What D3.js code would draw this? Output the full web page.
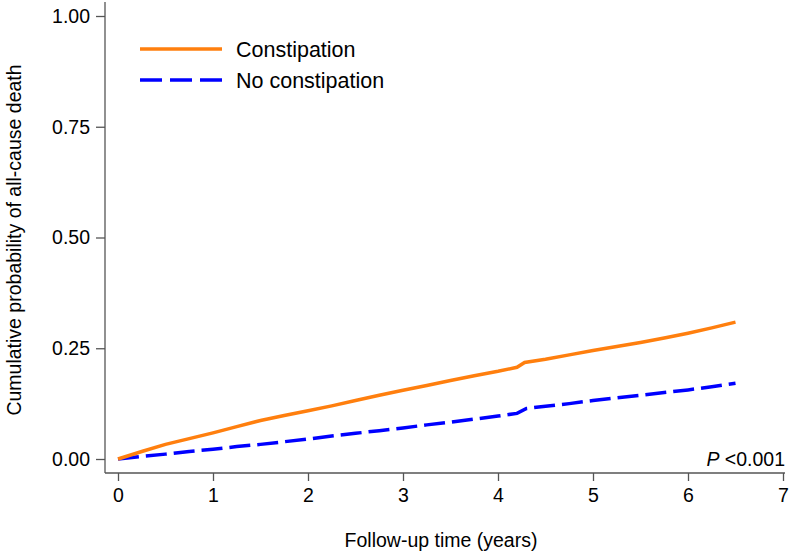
<!DOCTYPE html>
<html><head><meta charset="utf-8">
<script src="https://cdn.jsdelivr.net/npm/d3@7"></script>
<style>body{margin:0;background:#fff}svg{display:block}text{font-family:"Liberation Sans",Arial,sans-serif;fill:#000}</style>
</head><body>
<svg id="c" width="800" height="554"></svg>
<script>
const timeC = [0,0.25,0.5,0.75,1,1.25,1.5,1.75,2,2.25,2.5,2.75,3,3.25,3.5,3.75,4,4.2,4.28,4.5,4.75,5,5.25,5.5,5.75,6,6.25,6.5];
const constipation = [0,0.017,0.033,0.046,0.059,0.073,0.087,0.098,0.109,0.120,0.132,0.144,0.155,0.166,0.177,0.188,0.198,0.207,0.218,0.225,0.235,0.245,0.254,0.263,0.273,0.284,0.296,0.309];
const timeN = [0,0.25,0.5,0.75,1,1.25,1.5,1.75,2,2.25,2.5,2.75,3,3.25,3.5,3.75,4,4.2,4.3,4.5,4.75,5,5.25,5.5,5.75,6,6.25,6.5];
const noConstipation = [0,0.006,0.011,0.017,0.022,0.028,0.033,0.039,0.045,0.052,0.058,0.064,0.070,0.077,0.083,0.090,0.097,0.103,0.114,0.119,0.125,0.132,0.138,0.144,0.150,0.156,0.163,0.171];
const xTicks = [0,1,2,3,4,5,6,7];
const yTicks = [0,0.25,0.5,0.75,1];
const seriesNames = ["Constipation","No constipation"];

const svg = d3.select("#c");
const x = d3.scaleLinear().domain([0,7]).range([118,783]);
const y = d3.scaleLinear().domain([0,1]).range([459,16]);
const axisCol = "#555";
const fam = "'Liberation Sans',Arial,sans-serif";

// y axis
const ya = svg.append("g").attr("transform","translate(105,0)")
  .call(d3.axisLeft(y).tickValues(yTicks).tickFormat(d3.format(".2f")).tickSize(9).tickSizeOuter(0).tickPadding(6));
ya.select(".domain").remove();
svg.append("line").attr("x1",105).attr("x2",105).attr("y1",2).attr("y2",473).attr("stroke",axisCol).attr("stroke-width",1.3);
ya.selectAll("line").attr("stroke",axisCol).attr("stroke-width",1.3);
ya.selectAll("text").attr("font-size",19.5).style("font-family",fam).attr("fill","#000");

// x axis
const xa = svg.append("g").attr("transform","translate(0,473)")
  .call(d3.axisBottom(x).tickValues(xTicks).tickFormat(d3.format("d")).tickSize(8).tickSizeOuter(0).tickPadding(7));
xa.select(".domain").remove();
svg.append("line").attr("x1",105).attr("x2",785).attr("y1",473).attr("y2",473).attr("stroke",axisCol).attr("stroke-width",1.3);
xa.selectAll("line").attr("stroke",axisCol).attr("stroke-width",1.3);
xa.selectAll("text").attr("font-size",19.5).style("font-family",fam).attr("fill","#000");

// titles
svg.append("text").attr("x",441).attr("y",547).attr("text-anchor","middle").attr("font-size",19.5).text("Follow-up time (years)");
svg.append("text").attr("transform","translate(21,240) rotate(-90)").attr("text-anchor","middle").attr("font-size",19.5).text("Cumulative probability of all-cause death");

// lines
const line = d3.line().x(d=>x(d[0])).y(d=>y(d[1]));
svg.append("path").datum(timeN.map((t,i)=>[t,noConstipation[i]]))
  .attr("d",line).attr("fill","none").attr("stroke","#0000ff").attr("stroke-width",3.5).attr("stroke-dasharray","21,7");
svg.append("path").datum(timeC.map((t,i)=>[t,constipation[i]]))
  .attr("d",line).attr("fill","none").attr("stroke","#ff7f0e").attr("stroke-width",3.5);

// legend
const leg = [{n:seriesNames[0],c:"#ff7f0e",d:null,y:49},{n:seriesNames[1],c:"#0000ff",d:"22,8",y:80}];
leg.forEach(l=>{
  svg.append("line").attr("x1",140).attr("x2",222).attr("y1",l.y).attr("y2",l.y).attr("stroke",l.c).attr("stroke-width",3.5).attr("stroke-dasharray",l.d);
  svg.append("text").attr("x",236).attr("y",l.y+7.5).attr("font-size",21.5).text(l.n);
});

// P value
const pt = svg.append("text").attr("x",785).attr("y",466).attr("text-anchor","end").attr("font-size",19.5);
pt.append("tspan").attr("font-style","italic").text("P");
pt.append("tspan").text(" <0.001");
</script>
</body></html>
